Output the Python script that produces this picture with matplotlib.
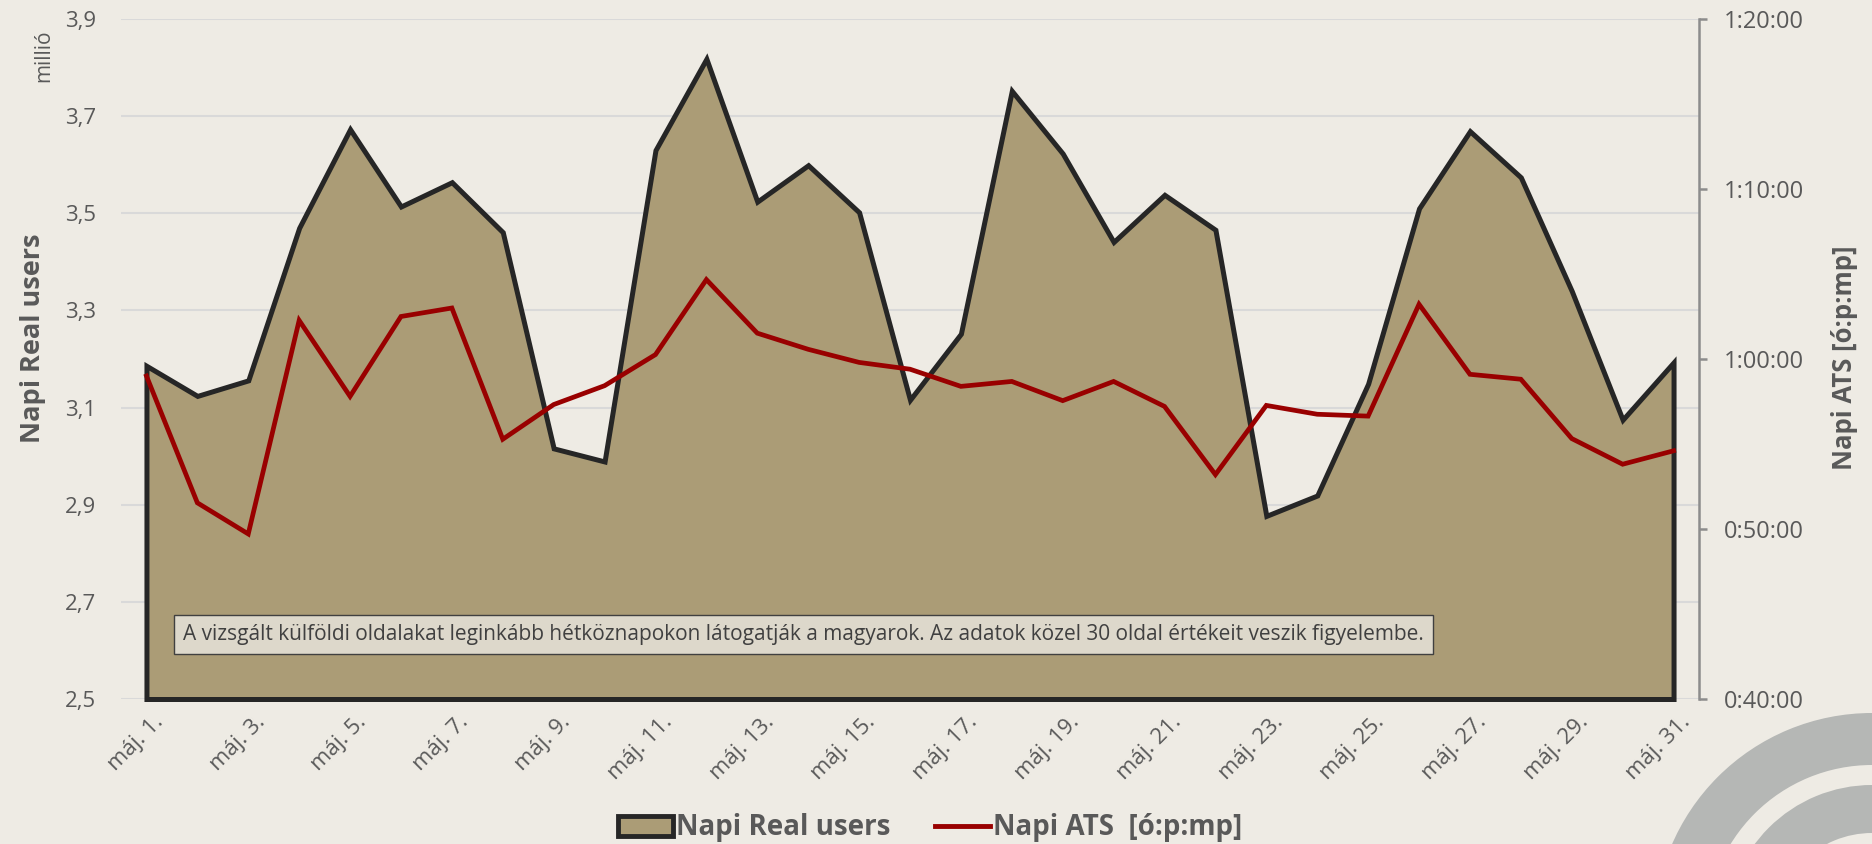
import matplotlib.pyplot as plt
import matplotlib.ticker as mticker
import matplotlib.transforms as mtrans
from matplotlib.patches import Wedge, Patch
from matplotlib.lines import Line2D

plt.rcParams["font.family"] = ["Open Sans", "DejaVu Sans"]

days = ["máj. 1.", "máj. 2.", "máj. 3.", "máj. 4.", "máj. 5.", "máj. 6.", "máj. 7.",
        "máj. 8.", "máj. 9.", "máj. 10.", "máj. 11.", "máj. 12.", "máj. 13.", "máj. 14.",
        "máj. 15.", "máj. 16.", "máj. 17.", "máj. 18.", "máj. 19.", "máj. 20.", "máj. 21.",
        "máj. 22.", "máj. 23.", "máj. 24.", "máj. 25.", "máj. 26.", "máj. 27.", "máj. 28.",
        "máj. 29.", "máj. 30.", "máj. 31."]

# napi real users, millió
real_users = [3.186, 3.124, 3.156, 3.470, 3.673, 3.514, 3.564, 3.461, 3.016, 2.989,
              3.630, 3.818, 3.524, 3.599, 3.502, 3.116, 3.252, 3.752, 3.623, 3.441,
              3.538, 3.466, 2.877, 2.919, 3.149, 3.510, 3.669, 3.574, 3.340, 3.075,
              3.193]

# napi ATS, percben
ats_min = [59.0, 51.54, 49.71, 62.27, 57.8, 62.5, 63.0, 55.28, 57.32, 58.43,
           60.26, 64.67, 61.52, 60.57, 59.8, 59.4, 58.39, 58.68, 57.55, 58.68,
           57.21, 53.2, 57.27, 56.75, 56.64, 63.22, 59.1, 58.81, 55.32, 53.81,
           54.6]

left_ticks = [2.5, 2.7, 2.9, 3.1, 3.3, 3.5, 3.7, 3.9]
right_ticks = [40, 50, 60, 70, 80]

note = ("A vizsgált külföldi oldalakat leginkább hétköznapokon látogatják a magyarok. "
        "Az adatok közel 30 oldal értékeit veszik figyelembe.")

bg = "#EEEBE4"
fill_c = "#AB9C76"
edge_c = "#262626"
red_c = "#990000"
txt_c = "#595959"

W, H = 1872, 844
fig = plt.figure(figsize=(W / 100, H / 100), dpi=100, facecolor=bg)

# dekor körívek jobb alul
deco = fig.add_axes([0, 0, 1, 1], zorder=-1)
deco.set_xlim(0, W)
deco.set_ylim(H, 0)
deco.axis("off")
deco.add_patch(Wedge((1872, 931), 218, 0, 360, width=52, color="#B5B7B5", lw=0))
deco.add_patch(Wedge((1872, 931), 146, 0, 360, width=48, color="#B5B7B5", lw=0))

ax = fig.add_axes([121 / W, 1 - 699 / H, (1699 - 121) / W, (699 - 19) / H])
ax.patch.set_visible(False)
x = list(range(len(days)))

ax.fill_between(x, 2.5, real_users, facecolor=fill_c, edgecolor=edge_c,
                linewidth=3.6, joinstyle="miter", clip_on=False, zorder=3)
ax.set_xlim(-0.5, len(days) - 0.5)
ax.set_ylim(2.5, 3.9)
ax.set_yticks(left_ticks)
ax.yaxis.set_major_formatter(mticker.FuncFormatter(lambda v, p: f"{v:.1f}".replace(".", ",")))
ax.grid(axis="y", color="#D9D9D9", linewidth=1.5, zorder=0)
ax.set_axisbelow(True)
for s in ax.spines.values():
    s.set_visible(False)
ax.tick_params(axis="y", length=0, pad=18, labelsize=16, labelcolor=txt_c)
ax.set_xticks(x[::2])
ax.set_xticklabels(days[::2], rotation=45, ha="right", rotation_mode="anchor")
ax.tick_params(axis="x", length=0, pad=9, labelsize=16, labelcolor=txt_c)
shift = mtrans.ScaledTranslation(6 / 100, 0, fig.dpi_scale_trans)
for lab in ax.get_xticklabels():
    lab.set_transform(lab.get_transform() + shift)

ax2 = ax.twinx()
ax2.plot(x, ats_min, color=red_c, linewidth=3.4, solid_joinstyle="miter", zorder=4)
ax2.set_ylim(40, 80)
ax2.set_yticks(right_ticks)
ax2.yaxis.set_major_formatter(mticker.FuncFormatter(lambda v, p: f"{int(v) // 60}:{int(v) % 60:02d}:00"))
for s in ["top", "left", "bottom"]:
    ax2.spines[s].set_visible(False)
ax2.spines["right"].set_color("#8C8C8C")
ax2.spines["right"].set_linewidth(1.8)
ax2.tick_params(axis="y", length=6, width=1.8, color="#8C8C8C", pad=12,
                labelsize=17, labelcolor=txt_c)

fig.text(44 / W, 1 - 56 / H, "millió", rotation=90, ha="center", va="center",
         fontsize=15, color=txt_c)
fig.text(33 / W, 1 - 338 / H, "Napi Real users", rotation=90, ha="center", va="center",
         fontsize=19.5, fontweight="bold", color=txt_c)
fig.text(1845 / W, 1 - 358 / H, "Napi ATS [ó:p:mp]", rotation=90, ha="center", va="center",
         fontsize=18.5, fontweight="bold", color=txt_c)

fig.text(183 / W, 1 - 634.5 / H, note, ha="left", va="center", fontsize=15.0, color="#404040",
         bbox=dict(boxstyle="square,pad=0.45", facecolor="#DDD8CB", edgecolor="#404040", linewidth=1))

handles = [Patch(facecolor=fill_c, edgecolor=edge_c, linewidth=3.5),
           Line2D([0], [0], color=red_c, linewidth=3.5)]
fig.legend(handles, ["Napi Real users", "Napi ATS  [ó:p:mp]"], loc="center",
           bbox_to_anchor=(930 / W, 1 - 828 / H), ncol=2, frameon=False,
           prop={"size": 20, "weight": "bold"}, labelcolor=txt_c,
           handlelength=2.0, handletextpad=0.1, columnspacing=1.6)

fig.savefig("out.png", dpi=100, facecolor=bg)
